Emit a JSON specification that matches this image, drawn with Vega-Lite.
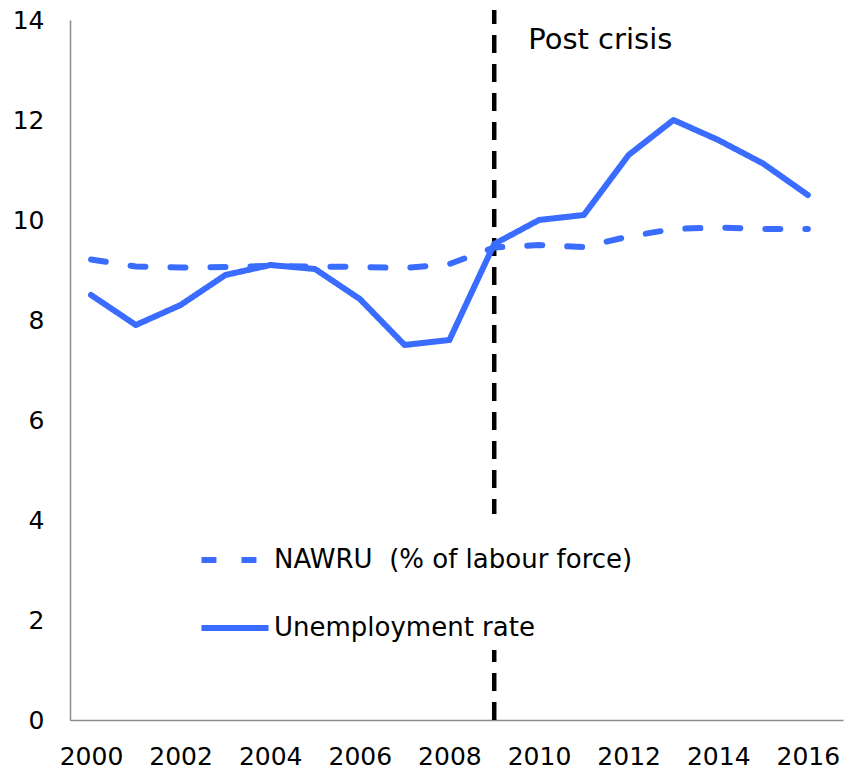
{
  "$schema": "https://vega.github.io/schema/vega-lite/v6.json",
  "width": 773,
  "height": 700,
  "autosize": {"type": "none"},
  "padding": {"left": 70, "top": 20, "right": 3, "bottom": 51},
  "background": "white",
  "config": {
    "view": {"stroke": null},
    "font": "DejaVu Sans",
    "axis": {
      "grid": false,
      "ticks": false,
      "domainColor": "#8c8c8c",
      "domainWidth": 1.5,
      "labelFont": "DejaVu Sans",
      "labelFontSize": 25,
      "labelColor": "#000000",
      "title": null
    }
  },
  "datasets": {
    "series": [
      {"year": 2000, "series": "NAWRU\u00a0 (% of labour force)", "value": 9.21},
      {"year": 2001, "series": "NAWRU\u00a0 (% of labour force)", "value": 9.07},
      {"year": 2002, "series": "NAWRU\u00a0 (% of labour force)", "value": 9.05},
      {"year": 2003, "series": "NAWRU\u00a0 (% of labour force)", "value": 9.06},
      {"year": 2004, "series": "NAWRU\u00a0 (% of labour force)", "value": 9.08},
      {"year": 2005, "series": "NAWRU\u00a0 (% of labour force)", "value": 9.07},
      {"year": 2006, "series": "NAWRU\u00a0 (% of labour force)", "value": 9.06},
      {"year": 2007, "series": "NAWRU\u00a0 (% of labour force)", "value": 9.04},
      {"year": 2008, "series": "NAWRU\u00a0 (% of labour force)", "value": 9.12},
      {"year": 2009, "series": "NAWRU\u00a0 (% of labour force)", "value": 9.45},
      {"year": 2010, "series": "NAWRU\u00a0 (% of labour force)", "value": 9.5},
      {"year": 2011, "series": "NAWRU\u00a0 (% of labour force)", "value": 9.46},
      {"year": 2012, "series": "NAWRU\u00a0 (% of labour force)", "value": 9.67},
      {"year": 2013, "series": "NAWRU\u00a0 (% of labour force)", "value": 9.82},
      {"year": 2014, "series": "NAWRU\u00a0 (% of labour force)", "value": 9.85},
      {"year": 2015, "series": "NAWRU\u00a0 (% of labour force)", "value": 9.82},
      {"year": 2016, "series": "NAWRU\u00a0 (% of labour force)", "value": 9.82},
      {"year": 2000, "series": "Unemployment rate", "value": 8.5},
      {"year": 2001, "series": "Unemployment rate", "value": 7.9},
      {"year": 2002, "series": "Unemployment rate", "value": 8.3},
      {"year": 2003, "series": "Unemployment rate", "value": 8.9},
      {"year": 2004, "series": "Unemployment rate", "value": 9.1},
      {"year": 2005, "series": "Unemployment rate", "value": 9.02},
      {"year": 2006, "series": "Unemployment rate", "value": 8.42},
      {"year": 2007, "series": "Unemployment rate", "value": 7.5},
      {"year": 2008, "series": "Unemployment rate", "value": 7.6},
      {"year": 2009, "series": "Unemployment rate", "value": 9.52},
      {"year": 2010, "series": "Unemployment rate", "value": 10.0},
      {"year": 2011, "series": "Unemployment rate", "value": 10.1},
      {"year": 2012, "series": "Unemployment rate", "value": 11.3},
      {"year": 2013, "series": "Unemployment rate", "value": 12.0},
      {"year": 2014, "series": "Unemployment rate", "value": 11.6},
      {"year": 2015, "series": "Unemployment rate", "value": 11.13},
      {"year": 2016, "series": "Unemployment rate", "value": 10.5}
    ],
    "marker": [
      {"year": 2009, "low": 0, "high": 14.2, "label": "Post crisis"}
    ]
  },
  "layer": [
    {
      "data": {"name": "marker"},
      "mark": {"type": "rule", "color": "#000000", "strokeWidth": 4.5, "strokeDash": [18, 11]},
      "encoding": {
        "x": {"field": "year", "type": "quantitative"},
        "y": {"field": "low", "type": "quantitative"},
        "y2": {"field": "high"}
      }
    },
    {
      "data": {"name": "series"},
      "mark": {"type": "line", "color": "#3A6DFF", "strokeWidth": 6, "strokeCap": "round", "strokeJoin": "round"},
      "encoding": {
        "x": {
          "field": "year",
          "type": "quantitative",
          "scale": {"domain": [1999.531, 2016.785], "nice": false, "zero": false},
          "axis": {"values": [2000, 2002, 2004, 2006, 2008, 2010, 2012, 2014, 2016], "format": "d", "labelPadding": 24, "labelFlush": false, "labelOverlap": false}
        },
        "y": {
          "field": "value",
          "type": "quantitative",
          "scale": {"domain": [0, 14], "nice": false, "clamp": false},
          "axis": {"values": [0, 2, 4, 6, 8, 10, 12, 14], "labelPadding": 26, "labelFlush": false, "labelOverlap": false}
        },
        "strokeDash": {
          "field": "series",
          "type": "nominal",
          "scale": {
            "domain": ["NAWRU\u00a0 (% of labour force)", "Unemployment rate"],
            "range": [[15, 25], [1, 0]]
          },
          "legend": {
            "title": null,
            "orient": "none",
            "legendX": 119,
            "legendY": 494,
            "padding": 9,
            "fillColor": "white",
            "symbolType": "stroke",
            "symbolSize": 4500,
            "symbolStrokeWidth": 6,
            "symbolStrokeColor": "#3A6DFF",
            "labelFontSize": 26,
            "labelFont": "DejaVu Sans",
            "labelColor": "#000000",
            "labelOffset": 2,
            "labelLimit": 500,
            "rowPadding": 18
          }
        }
      }
    },
    {
      "data": {"name": "marker"},
      "mark": {"type": "text", "align": "left", "baseline": "top", "dx": 34, "dy": 16, "fontSize": 29, "font": "DejaVu Sans", "color": "#000000"},
      "encoding": {
        "x": {"field": "year", "type": "quantitative"},
        "y": {"field": "high", "type": "quantitative"},
        "text": {"field": "label"}
      }
    }
  ]
}
